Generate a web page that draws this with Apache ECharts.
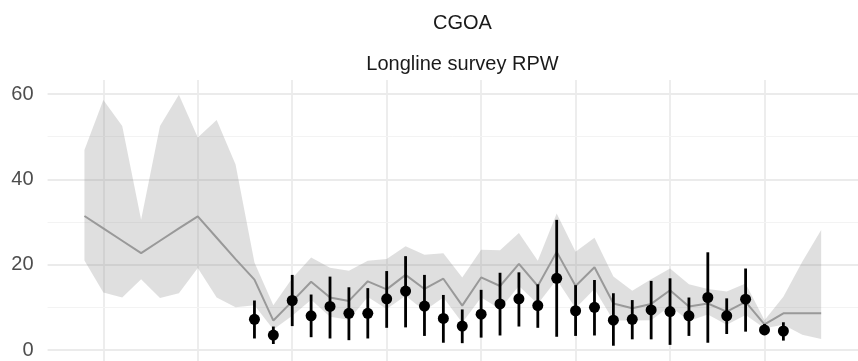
<!DOCTYPE html>
<html>
<head>
<meta charset="utf-8">
<script src="https://cdn.jsdelivr.net/npm/echarts@6/dist/echarts.min.js"></script>
<style>
  html, body { margin: 0; padding: 0; background: #ffffff; }
  #chart { width: 858px; height: 361px; }
</style>
</head>
<body>
<div id="chart"></div>
<script>
// ---- Data ----
const years = [1984, 1985, 1986, 1987, 1988, 1989, 1990, 1991, 1992, 1993,
               1994, 1995, 1996, 1997, 1998, 1999, 2000, 2001, 2002, 2003,
               2004, 2005, 2006, 2007, 2008, 2009, 2010, 2011, 2012, 2013,
               2014, 2015, 2016, 2017, 2018, 2019, 2020, 2021, 2022, 2023];
const fit = [31.4, 28.5, 25.6, 22.7, 25.6, 28.5, 31.3, 26.3, 21.3, 16.5,
             6.9, 11.4, 16.0, 12.3, 11.5, 16.1, 14.2, 17.6, 14.3, 16.7,
             10.4, 17.0, 15.0, 20.2, 15.0, 23.0, 15.0, 19.4, 10.9, 9.8,
             10.8, 14.0, 10.2, 10.9, 9.0, 11.3, 6.0, 8.6, 8.6, 8.6];
const fitUpper = [46.9, 58.6, 52.5, 30.5, 52.5, 59.8, 49.8, 53.9, 43.5, 20.5,
                  10.5, 16.8, 21.7, 19.3, 18.6, 20.9, 21.3, 24.3, 22.3, 22.7,
                  17.0, 23.5, 23.4, 27.4, 20.9, 32.0, 23.0, 26.3, 17.2, 13.9,
                  16.6, 19.1, 15.4, 14.3, 13.7, 15.6, 7.0, 12.5, 20.7, 28.1];
const fitLower = [21.0, 13.5, 12.3, 16.6, 12.2, 13.3, 19.2, 12.3, 10.0, 10.5,
                  4.8, 8.0, 11.8, 7.8, 7.1, 12.4, 9.6, 12.7, 9.2, 12.3,
                  6.4, 12.3, 9.6, 15.0, 10.8, 16.5, 9.8, 14.3, 6.9, 6.9,
                  7.0, 10.3, 6.8, 8.3, 5.9, 8.2, 5.1, 5.9, 3.6, 2.6];

const obsYears = [1993, 1994, 1995, 1996, 1997, 1998, 1999, 2000, 2001, 2002,
                  2003, 2004, 2005, 2006, 2007, 2008, 2009, 2010, 2011, 2012,
                  2013, 2014, 2015, 2016, 2017, 2018, 2019, 2020, 2021];
const obs = [7.2, 3.5, 11.6, 8.0, 10.2, 8.6, 8.6, 12.0, 13.8, 10.3,
             7.4, 5.6, 8.4, 10.8, 12.0, 10.4, 16.8, 9.2, 10.0, 7.0,
             7.2, 9.4, 9.0, 8.0, 12.3, 8.0, 11.9, 4.7, 4.45];
const obsLower = [2.7, 1.4, 5.6, 3.0, 2.7, 2.3, 2.7, 5.2, 5.3, 3.3,
                  1.7, 1.6, 2.9, 3.4, 5.5, 5.2, 3.1, 3.3, 3.4, 1.0,
                  2.5, 2.5, 1.2, 3.3, 1.7, 3.75, 4.3, 3.5, 2.2];
const obsUpper = [11.6, 5.5, 17.6, 13.0, 17.2, 14.7, 14.5, 18.5, 22.0, 17.6,
                  12.9, 9.5, 14.1, 18.1, 18.2, 15.4, 30.5, 15.2, 16.4, 13.3,
                  11.7, 16.2, 16.8, 12.3, 22.9, 12.1, 19.1, 6.1, 6.5];

const xGridYears = [1985, 1990, 1995, 2000, 2005, 2010, 2015, 2020];
const yMajor = [0, 20, 40, 60];
const yMinor = [10, 30, 50];
const titleText = 'CGOA';
const subtitleText = 'Longline survey RPW';

// ---- Chart ----
const FONT = '"Liberation Sans", Arial, Helvetica, sans-serif';
const chart = echarts.init(document.getElementById('chart'), null, { renderer: 'canvas' });

const gridLines = []
  .concat(xGridYears.map(v => ({ xAxis: v, lineStyle: { color: '#ebebeb', width: 1.8, type: 'solid' } })))
  .concat(yMajor.map(v => ({ yAxis: v, lineStyle: { color: '#ebebeb', width: 1.8, type: 'solid' } })))
  .concat(yMinor.map(v => ({ yAxis: v, lineStyle: { color: '#f3f3f3', width: 1, type: 'solid' } })));

const option = {
  animation: false,
  backgroundColor: '#ffffff',
  title: [
    { text: titleText, left: 457.5, top: 8, textAlign: 'center',
      textStyle: { fontFamily: FONT, fontSize: 20, fontWeight: 'normal', color: '#1a1a1a' } },
    { text: subtitleText, left: 457.5, top: 49, textAlign: 'center',
      textStyle: { fontFamily: FONT, fontSize: 20, fontWeight: 'normal', color: '#1a1a1a' } }
  ],
  grid: { left: 47.6, right: -9.5, top: 80, bottom: 0, containLabel: false },
  xAxis: {
    type: 'value', min: 1982.05, max: 2024.95,
    axisLine: { show: false }, axisTick: { show: false },
    axisLabel: { show: false }, splitLine: { show: false }
  },
  yAxis: {
    type: 'value', min: -2.58, max: 63.28,
    axisLine: { show: false }, axisTick: { show: false },
    splitLine: { show: false },
    axisLabel: {
      margin: 14, fontFamily: FONT, fontSize: 20, color: '#4d4d4d',
      showMinLabel: true, showMaxLabel: true,
      formatter: v => (yMajor.indexOf(Math.round(v * 1000) / 1000) >= 0 ? String(v) : '')
    }
  },
  series: [
    {
      name: 'gridlines', type: 'line', z: 0, silent: true,
      data: years.map((y, i) => [y, fit[i]]),
      symbol: 'none', lineStyle: { opacity: 0 },
      markLine: {
        z: 0, silent: true, symbol: ['none', 'none'], label: { show: false },
        animation: false, data: gridLines
      }
    },
    {
      name: 'band', type: 'custom', z: 2, silent: true,
      data: [0],
      renderItem: function (params, api) {
        const pts = [];
        for (let i = 0; i < years.length; i++) pts.push(api.coord([years[i], fitUpper[i]]));
        for (let i = years.length - 1; i >= 0; i--) pts.push(api.coord([years[i], fitLower[i]]));
        return {
          type: 'polygon',
          shape: { points: pts },
          style: { fill: 'rgba(140,140,140,0.28)', stroke: null }
        };
      }
    },
    {
      name: 'fit', type: 'line', z: 3, silent: true,
      data: years.map((y, i) => [y, fit[i]]),
      symbol: 'none', lineStyle: { color: '#999999', width: 2 }
    },
    {
      name: 'errorbars', type: 'custom', z: 4, silent: true,
      data: obsYears.map((y, i) => [y, obsLower[i], obsUpper[i]]),
      encode: { x: 0, y: [1, 2] },
      renderItem: function (params, api) {
        const p1 = api.coord([api.value(0), api.value(1)]);
        const p2 = api.coord([api.value(0), api.value(2)]);
        return {
          type: 'line',
          shape: { x1: p1[0], y1: p1[1], x2: p2[0], y2: p2[1] },
          style: { stroke: '#000000', lineWidth: 2.8 }
        };
      }
    },
    {
      name: 'obs', type: 'scatter', z: 5, silent: true,
      data: obsYears.map((y, i) => [y, obs[i]]),
      symbol: 'circle', symbolSize: 11,
      itemStyle: { color: '#000000', opacity: 1 }
    }
  ]
};
chart.setOption(option);
</script>
</body>
</html>
